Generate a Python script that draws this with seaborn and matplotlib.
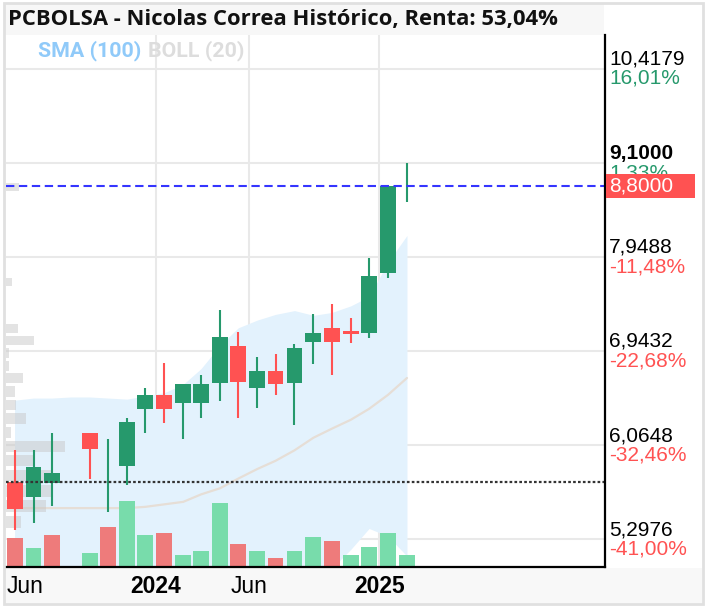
import numpy as np
import pandas as pd
import matplotlib
matplotlib.use("Agg")
import matplotlib.pyplot as plt
import seaborn as sns
from matplotlib import transforms
from matplotlib.patches import Rectangle
from matplotlib.ticker import NullLocator

# ---------------- data ----------------
months = pd.date_range("2023-05-01", "2025-02-01", freq="MS") + pd.Timedelta(days=14)
opens  = [5.75, 5.63, 5.74, np.nan, 6.17, 5.87, 5.89, 6.39, 6.52, 6.44, 6.44, 6.63, 6.99, 6.58, 6.75, 6.63, 7.03, 7.18, 7.15, 7.13, 7.77, 8.79]
closes = [5.53, 5.88, 5.83, np.nan, 6.03, 5.88, 6.27, 6.52, 6.39, 6.62, 6.62, 7.09, 6.64, 6.75, 6.62, 6.97, 7.13, 7.03, 7.12, 7.73, 8.80, 8.80]
highs  = [6.02, 6.02, 6.17, np.nan, 6.17, 6.12, 6.31, 6.58, 6.83, 6.62, 6.71, 7.37, 7.14, 6.88, 6.91, 7.01, 7.32, 7.43, 7.28, 7.94, 8.82, 9.10]
lows   = [5.37, 5.42, 5.56, np.nan, 5.78, 5.51, 5.73, 6.17, 6.26, 6.12, 6.31, 6.46, 6.31, 6.40, 6.52, 6.24, 6.82, 6.71, 7.02, 7.08, 7.71, 8.61]
volumes = [290, 190, 320, np.nan, 140, 400, 660, 320, 340, 120, 160, 640, 230, 160, 90, 160, 300, 260, 120, 200, 340, 120]

boll_upper = [6.47, 6.49, 6.49, 6.50, 6.50, 6.49, 6.48, 6.51, 6.54, 6.62, 6.77, 7.00, 7.18, 7.26, 7.32, 7.36, 7.31, 7.34, 7.41, 7.51, 7.89, 8.20]
boll_mid   = [5.54, 5.54, 5.54, 5.54, 5.54, 5.54, 5.54, 5.55, 5.57, 5.59, 5.65, 5.70, 5.78, 5.86, 5.93, 6.02, 6.13, 6.21, 6.29, 6.39, 6.52, 6.68]
boll_lower = [4.61, 4.59, 4.60, 4.59, 4.59, 4.60, 4.61, 4.59, 4.60, 4.56, 4.53, 4.40, 4.38, 4.46, 4.54, 4.68, 4.95, 5.08, 5.22, 5.38, 5.32, 5.17]

# volume-by-price profile (30 price bins between the period low and high)
profile_low, profile_high = 5.37, 9.10
profile_vol = [15, 40, 45, 45, 27, 59, 5, 20, 10, 9, 17, 3, 3, 28, 12, 0, 0, 0, 6, 0, 0, 0, 0, 0, 0, 0, 0, 13, 0, 0]

level_values = [5.2976, 6.0648, 6.9432, 7.9488, 9.1000, 10.4179]
level_labels = ["5,2976", "6,0648", "6,9432", "7,9488", "9,1000", "10,4179"]
level_pcts   = ["-41,00%", "-32,46%", "-22,68%", "-11,48%", "1,33%", "16,01%"]

last_price = 8.80
last_label = "8,8000"
start_price = 5.75

tick_dates  = ["2023-06-01", "2024-01-01", "2024-06-01", "2025-01-01"]
tick_labels = ["Jun", "2024", "Jun", "2025"]
grid_dates  = ["2024-01-01", "2024-06-01", "2025-01-01"]

title = "PCBOLSA - Nicolas Correa Histórico, Renta: 53,04%"

# ---------------- style ----------------
sns.set_theme(style="white")
plt.rcParams["font.family"] = ["Liberation Sans", "DejaVu Sans"]

GREEN = "#26996c"
RED = "#ff5252"
VGREEN = "#78dcab"
VRED = "#ee7b7b"

W, H = 708, 608
fig = plt.figure(figsize=(W / 100, H / 100), dpi=100)
fig.patch.set_facecolor("white")

def fx(p):
    return p / W

def fy(p):
    return 1 - p / H

# frame pieces (behind the axes)
fig.patches.append(Rectangle((fx(5), fy(603)), 697 / W, 35 / H, transform=fig.transFigure,
                             facecolor="#f8f8f8", edgecolor="none", zorder=-2))
fig.patches.append(Rectangle((fx(5), fy(35)), 599 / W, 31 / H, transform=fig.transFigure,
                             facecolor="#f7f7f7", edgecolor="none", zorder=-2))
fig.patches.append(Rectangle((fx(4), fy(604)), 699 / W, 601 / H, transform=fig.transFigure,
                             fill=False, edgecolor="#e0e0e0", lw=2, zorder=5))

ax = fig.add_axes([fx(6), fy(567), 599 / W, 532 / H])
ax.set_facecolor("white")
ax.set_yscale("log")

df = pd.DataFrame({"date": months, "open": opens, "close": closes, "high": highs,
                   "low": lows, "volume": volumes, "upper": boll_upper,
                   "mid": boll_mid, "lower": boll_lower})

# Bollinger band
ax.fill_between(df["date"], df["lower"], df["upper"], color="#e3f2fd", lw=0, zorder=1)
sns.lineplot(data=df, x="date", y="mid", ax=ax, color="#e6ded6", lw=1.6, zorder=2)

# volume profile
edges = np.linspace(profile_low, profile_high, len(profile_vol) + 1)
centers = (edges[:-1] + edges[1:]) / 2
bin_h = (edges[1] - edges[0]) * 0.77
x_left = pd.Timestamp("2023-05-01")
ax.barh(centers, np.array(profile_vol) * 1.64, height=bin_h, left=x_left,
        color="#c8c8c8", alpha=0.5, lw=0, zorder=2)

# candles
cd = df.dropna(subset=["open"])
up = cd["close"] >= cd["open"]
ccol = np.where(up, GREEN, RED)
ax.vlines(cd["date"], cd["low"], cd["high"], colors=ccol, lw=1.5, zorder=3)
body_lo = np.minimum(cd["open"], cd["close"])
body_h = np.abs(cd["close"] - cd["open"])
body_h = np.where(body_h < 0.015, 0.0, body_h)
ax.bar(cd["date"], body_h, bottom=body_lo, width=26, color=ccol, lw=0, zorder=4)

# reference lines
ax.axhline(last_price, color="#3535ff", lw=1.5, ls=(0, (4, 2.2)), zorder=5)
ax.axhline(start_price, color="#333333", lw=1.6, ls=(0, (1.2, 1.0)), zorder=5)

ax.set_xlim(pd.Timestamp("2023-05-01"), pd.Timestamp("2026-01-05"))
ax.set_ylim(5.09, 10.94)

# grid
ax.set_yticks(level_values)
ax.set_yticklabels([])
ax.yaxis.set_minor_locator(NullLocator())
ax.grid(axis="y", color="#e9e9e9", lw=1.5, zorder=0)
ax.grid(axis="x", visible=False)
for gd in grid_dates:
    ax.axvline(pd.Timestamp(gd), color="#e9e9e9", lw=1.5, zorder=0)

ax.set_xticks([pd.Timestamp(t) for t in tick_dates])
ax.set_xticklabels(tick_labels)
for lab in ax.get_xticklabels():
    lab.set_fontsize(16.5)
    lab.set_color("black")
    if lab.get_text().isdigit():
        lab.set_fontweight("bold")
ax.tick_params(axis="both", length=0, pad=6)
ax.set_xlabel("")
ax.set_ylabel("")
for s in ax.spines.values():
    s.set_visible(False)

# volume on twin axis
ax_v = ax.twinx()
vprev = df["close"].ffill().shift(1)
vprev.iloc[0] = df["open"].iloc[0]
vcol = np.where(df["close"] >= vprev, VGREEN, VRED)
ax_v.bar(df["date"], df["volume"], width=26, color=vcol, lw=0)
ax_v.set_ylim(0, np.nanmax(volumes) * 532 / 66)
ax_v.set_yticks([])
for side in ["left", "top"]:
    ax_v.spines[side].set_visible(False)
for side in ["right", "bottom"]:
    ax_v.spines[side].set_visible(True)
    ax_v.spines[side].set_color("black")
    ax_v.spines[side].set_linewidth(1.6)

# right labels
blend = transforms.blended_transform_factory(ax.transAxes, ax.transData)
for v, lab, pct in zip(level_values, level_labels, level_pcts):
    bold = lab == "9,1000"
    ax.annotate(lab, xy=(1, v), xycoords=blend, xytext=(3, 3.0), textcoords="offset points",
                ha="left", va="baseline", fontsize=15, color="black",
                fontweight="bold" if bold else "normal", annotation_clip=False, zorder=6)
    pc = GREEN if not pct.startswith("-") else RED
    ax.annotate(pct, xy=(1, v), xycoords=blend, xytext=(3, 0.0), textcoords="offset points",
                ha="left", va="top", fontsize=15, color=pc, annotation_clip=False, zorder=6)

# last price box
fig.canvas.draw()
yp = ax.transData.transform((ax.get_xlim()[0], last_price))[1]
fig.add_artist(Rectangle((606, yp - 12), 89, 24, transform=transforms.IdentityTransform(),
                         facecolor=RED, edgecolor="none", zorder=10))
fig.text(fx(609), yp / H, last_label, color="white", fontsize=15, va="center", ha="left", zorder=11)

# title and legend
fig.text(fx(8), fy(19), title, fontsize=15.8, fontweight="bold", family=["Open Sans", "DejaVu Sans"],
         va="center", ha="left", color="#111111")
fig.text(fx(38), fy(51), "SMA (100)", fontsize=15.4, fontweight="bold", family=["Roboto", "DejaVu Sans"],
         color="#90caf9", va="center", ha="left")
fig.text(fx(148), fy(51), "BOLL (20)", fontsize=15.4, fontweight="bold", family=["Roboto", "DejaVu Sans"],
         color="#dddddd", va="center", ha="left")

fig.savefig("out.png", dpi=100)
